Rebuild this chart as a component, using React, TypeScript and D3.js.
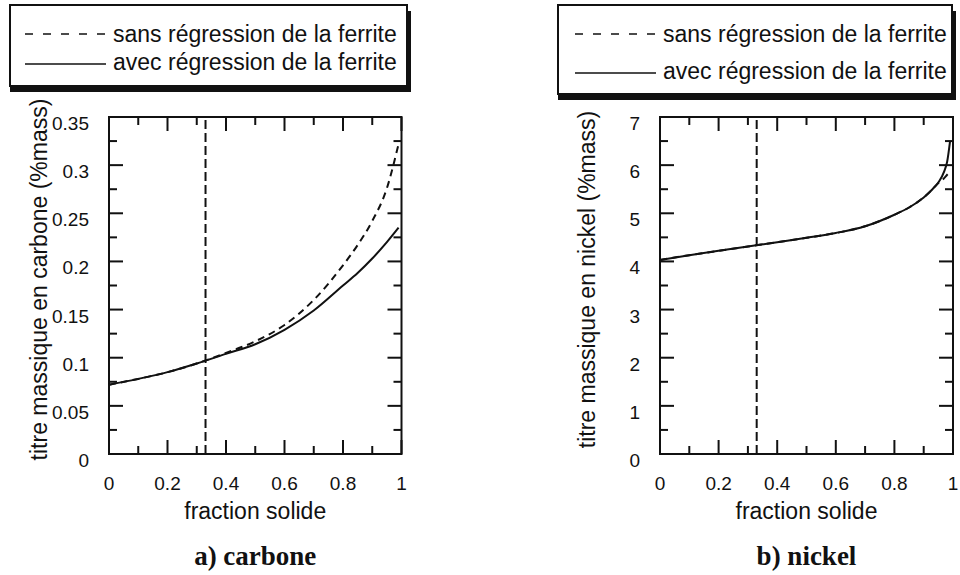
import React from "react";
import * as d3 from "d3";

// ---------- data ----------
const fractionCarbone = [0, 0.1, 0.2, 0.3, 0.4, 0.5, 0.6, 0.7, 0.8, 0.85, 0.9, 0.95, 0.99];
const carboneSans = [0.072, 0.078, 0.085, 0.094, 0.105, 0.117, 0.134, 0.160, 0.196, 0.217, 0.242, 0.276, 0.322];
const carboneAvec = [0.072, 0.078, 0.085, 0.094, 0.104, 0.114, 0.129, 0.149, 0.175, 0.188, 0.203, 0.220, 0.235];

const fractionNickel = [0, 0.1, 0.2, 0.3, 0.4, 0.5, 0.6, 0.7, 0.8, 0.85, 0.9, 0.93, 0.95, 0.97, 0.98, 0.99];
const nickelAvec = [4.03, 4.13, 4.22, 4.31, 4.4, 4.49, 4.59, 4.73, 4.97, 5.12, 5.33, 5.5, 5.64, 5.87, 6.07, 6.5];
const nickelSans = [4.03, 4.13, 4.22, 4.31, 4.4, 4.49, 4.59, 4.73, 4.97, 5.12, 5.33, 5.5, 5.63, 5.73, 5.8, 5.86];

const xTicks = [0, 0.2, 0.4, 0.6, 0.8, 1];
const xMinor = [0.1, 0.3, 0.5, 0.7, 0.9];
const carboneTicks = [0, 0.05, 0.1, 0.15, 0.2, 0.25, 0.3, 0.35];
const carboneMinor = [0.025, 0.075, 0.125, 0.175, 0.225, 0.275, 0.325];
const nickelTicks = [0, 1, 2, 3, 4, 5, 6, 7];
const nickelMinor = [0.5, 1.5, 2.5, 3.5, 4.5, 5.5, 6.5];

const transitionFraction = 0.33;

const legendLabels = ["sans régression de la ferrite", "avec régression de la ferrite"];
const xTitle = "fraction solide";

const SANS = "Liberation Sans, Arial, sans-serif";
const SERIF = "Liberation Serif, Times New Roman, serif";
const INK = "#111";

type PanelProps = {
  left: number;
  right: number;
  top: number;
  bottom: number;
  xs: number[];
  sans: number[];
  avec: number[];
  yMax: number;
  yTicks: number[];
  yMinor: number[];
  yFormat: (v: number) => string;
  yTitle: string;
  yTitleX: number;
  caption: string;
};

function Panel(p: PanelProps) {
  const x = d3.scaleLinear().domain([0, 1]).range([p.left, p.right]);
  const y = d3.scaleLinear().domain([0, p.yMax]).range([p.bottom, p.top]);
  const line = d3
    .line<number>()
    .x((_, i) => x(p.xs[i]))
    .y((d) => y(d))
    .curve(d3.curveMonotoneX);
  const major = 14;
  const minor = 8;
  const cx = (p.left + p.right) / 2;
  const cy = (p.top + p.bottom) / 2;
  return (
    <g>
      <rect
        x={p.left}
        y={p.top}
        width={p.right - p.left}
        height={p.bottom - p.top}
        fill="none"
        stroke={INK}
        strokeWidth={2}
      />
      {xTicks.concat(xMinor).map((t, i) => {
        const len = xTicks.includes(t) ? major : minor;
        return (
          <g key={"xt" + i} stroke={INK} strokeWidth={2}>
            <line x1={x(t)} x2={x(t)} y1={p.bottom} y2={p.bottom - len} />
            <line x1={x(t)} x2={x(t)} y1={p.top} y2={p.top + len} />
          </g>
        );
      })}
      {p.yTicks.concat(p.yMinor).map((t, i) => {
        const len = p.yTicks.includes(t) ? major : minor;
        return (
          <g key={"yt" + i} stroke={INK} strokeWidth={2}>
            <line x1={p.left} x2={p.left + len} y1={y(t)} y2={y(t)} />
            <line x1={p.right} x2={p.right - len} y1={y(t)} y2={y(t)} />
          </g>
        );
      })}
      {xTicks.map((t, i) => (
        <text
          key={"xl" + i}
          x={x(t)}
          y={p.bottom + 36}
          textAnchor="middle"
          fontFamily={SANS}
          fontSize={19}
          fill={INK}
        >
          {d3.format("~g")(t)}
        </text>
      ))}
      {p.yTicks.map((t, i) => (
        <text
          key={"yl" + i}
          x={p.left - 20}
          y={y(t) + 13}
          textAnchor="end"
          fontFamily={SANS}
          fontSize={19}
          fill={INK}
        >
          {p.yFormat(t)}
        </text>
      ))}
      <line
        x1={x(transitionFraction)}
        x2={x(transitionFraction)}
        y1={p.bottom}
        y2={p.top}
        stroke={INK}
        strokeWidth={2}
        strokeDasharray="9,4"
      />
      <path d={line(p.sans) || ""} fill="none" stroke={INK} strokeWidth={2} strokeDasharray="7,5" />
      <path d={line(p.avec) || ""} fill="none" stroke={INK} strokeWidth={2} />
      <text
        x={cx}
        y={p.bottom + 65}
        textAnchor="middle"
        fontFamily={SANS}
        fontSize={23}
        fill={INK}
      >
        {xTitle}
      </text>
      <text
        transform={`translate(${p.yTitleX},${cy - 6}) rotate(-90)`}
        textAnchor="middle"
        fontFamily={SANS}
        fontSize={23}
        fill={INK}
      >
        {p.yTitle}
      </text>
      <text
        x={cx}
        y={p.bottom + 111}
        textAnchor="middle"
        fontFamily={SERIF}
        fontWeight="bold"
        fontSize={27}
        fill={INK}
      >
        {p.caption}
      </text>
    </g>
  );
}

type LegendProps = {
  x: number;
  y: number;
  w: number;
  h: number;
  row1: number;
  row2: number;
  lineX: number;
  textX: number;
};

function Legend(l: LegendProps) {
  return (
    <g>
      <rect x={l.x} y={l.y + 6} width={l.w + 4} height={l.h} fill={INK} />
      <rect x={l.x} y={l.y} width={l.w} height={l.h} fill="#fff" stroke={INK} strokeWidth={2} />
      <line
        x1={l.lineX}
        x2={l.lineX + 80}
        y1={l.row1 - 8}
        y2={l.row1 - 8}
        stroke={INK}
        strokeWidth={1.5}
        strokeDasharray="8,10"
      />
      <line x1={l.lineX} x2={l.lineX + 81} y1={l.row2 - 6} y2={l.row2 - 6} stroke={INK} strokeWidth={1.5} />
      <text x={l.textX} y={l.row1} fontFamily={SANS} fontSize={23} fill={INK}>
        {legendLabels[0]}
      </text>
      <text x={l.textX} y={l.row2} fontFamily={SANS} fontSize={23} fill={INK}>
        {legendLabels[1]}
      </text>
    </g>
  );
}

export default function App() {
  return (
    <svg
      width={960}
      height={575}
      style={{ position: "absolute", left: 0, top: 0, background: "#fff" }}
    >
      <rect x={0} y={0} width={960} height={575} fill="#fff" />
      <Legend x={10} y={5} w={397} h={81} row1={42} row2={70} lineX={25} textX={113} />
      <Legend x={558} y={5} w={394} h={89} row1={42} row2={79} lineX={575} textX={663} />
      <Panel
        left={109}
        right={401.5}
        top={117}
        bottom={454}
        xs={fractionCarbone}
        sans={carboneSans}
        avec={carboneAvec}
        yMax={0.35}
        yTicks={carboneTicks}
        yMinor={carboneMinor}
        yFormat={(v) => d3.format("~g")(v)}
        yTitle="titre massique en carbone (%mass)"
        yTitleX={47}
        caption="a) carbone"
      />
      <Panel
        left={660}
        right={953}
        top={117}
        bottom={454}
        xs={fractionNickel}
        sans={nickelSans}
        avec={nickelAvec}
        yMax={7}
        yTicks={nickelTicks}
        yMinor={nickelMinor}
        yFormat={(v) => d3.format("~g")(v)}
        yTitle="titre massique en nickel (%mass)"
        yTitleX={595}
        caption="b) nickel"
      />
    </svg>
  );
}
